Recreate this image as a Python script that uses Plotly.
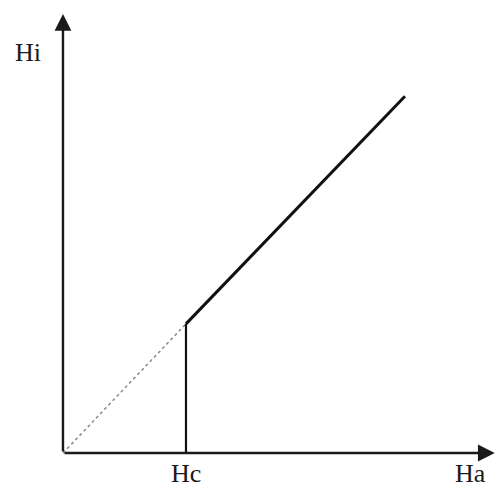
import plotly.graph_objects as go

# applied field Ha vs internal field Hi (units of Hc)
ha_dash = [0.0, 1.0]
hi_dash = [0.0, 1.05]
ha_jump = [1.0, 1.0]
hi_jump = [0.0, 1.05]
ha_line = [1.0, 2.78]
hi_line = [1.05, 2.9]

labels = ["Hi", "Hc", "Ha"]
label_x = [-0.285, 1.0, 3.31]
label_y = [3.26, -0.163, -0.163]

font = dict(family="Liberation Serif, Times New Roman, serif", size=26, color="#1a1a1a")

fig = go.Figure()
fig.add_trace(go.Scatter(x=ha_dash, y=hi_dash, mode="lines",
                         line=dict(color="#888888", width=1.5, dash="3px,3px")))
fig.add_trace(go.Scatter(x=ha_jump, y=hi_jump, mode="lines",
                         line=dict(color="#111111", width=2.2)))
fig.add_trace(go.Scatter(x=ha_line, y=hi_line, mode="lines",
                         line=dict(color="#111111", width=3)))

# axes with arrowheads
for tip_x, tip_y in [(3.51, 0.0), (0.0, 3.57)]:
    fig.add_annotation(x=tip_x, y=tip_y, ax=0, ay=0, xref="x", yref="y",
                       axref="x", ayref="y", text="", showarrow=True,
                       arrowhead=2, arrowsize=1.4, arrowwidth=2.4, arrowcolor="#1a1a1a")

for t, x, y in zip(labels, label_x, label_y):
    fig.add_annotation(x=x, y=y, text=t, showarrow=False, font=font,
                       xanchor="center", yanchor="middle")

fig.update_layout(
    width=495, height=491,
    margin=dict(l=0, r=0, t=0, b=0),
    paper_bgcolor="white", plot_bgcolor="white",
    showlegend=False,
    xaxis=dict(range=[-0.512, 3.512], visible=False, fixedrange=True),
    yaxis=dict(range=[-0.309, 3.683], visible=False, fixedrange=True),
)

fig.write_html("out.html", config={"displayModeBar": False},
               post_script="document.body.style.margin='0';document.body.style.overflow='hidden';")
